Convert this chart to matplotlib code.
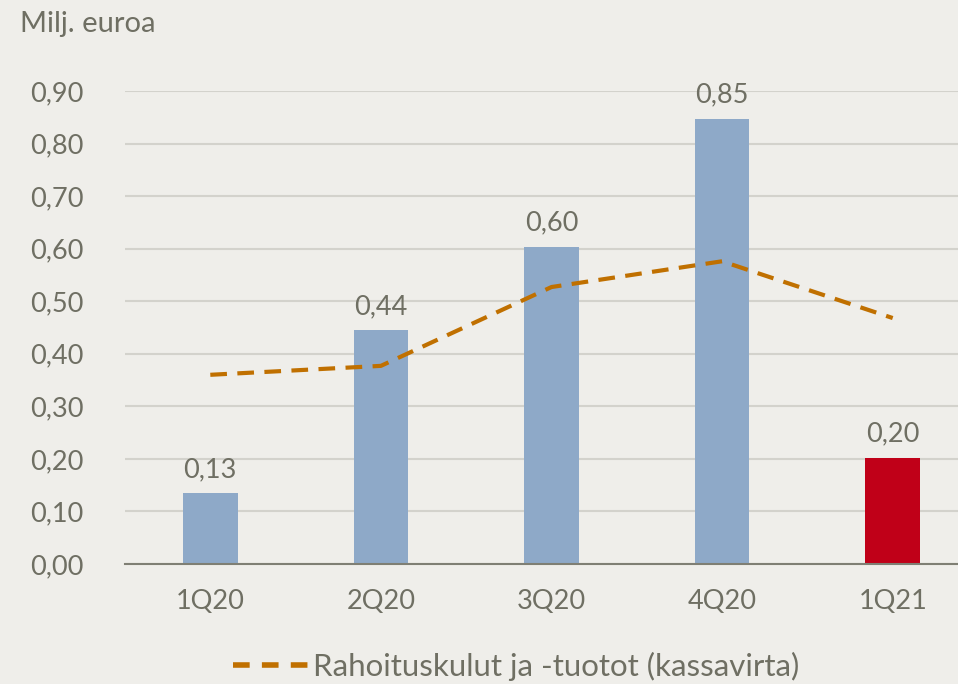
import matplotlib
matplotlib.use("Agg")
import matplotlib.pyplot as plt
from matplotlib.lines import Line2D

categories = ["1Q20", "2Q20", "3Q20", "4Q20", "1Q21"]
bar_values = [0.135, 0.445, 0.604, 0.847, 0.202]
bar_labels = ["0,13", "0,44", "0,60", "0,85", "0,20"]
line_values = [0.360, 0.377, 0.527, 0.576, 0.468]
yticks = [0.0, 0.1, 0.2, 0.3, 0.4, 0.5, 0.6, 0.7, 0.8, 0.9]
ytick_labels = ["0,00", "0,10", "0,20", "0,30", "0,40", "0,50", "0,60", "0,70", "0,80", "0,90"]
line_name = "Rahoituskulut ja -tuotot (kassavirta)"
unit_label = "Milj. euroa"

bg = "#EFEEEA"
txt = "#6F6F63"
bar_colors = ["#8EA9C8"] * 4 + ["#C00018"]
line_color = "#C07000"

plt.rcParams['font.family'] = ['Lato', 'DejaVu Sans']

W, H = 958, 684
fig = plt.figure(figsize=(W / 100, H / 100), dpi=100, facecolor=bg)
left, right, top, bottom = 125, 978, 91, 564
ax = fig.add_axes([left / W, 1 - bottom / H, (right - left) / W, (bottom - top) / H])
ax.set_facecolor(bg)

x = list(range(len(categories)))
ax.bar(x, bar_values, width=0.32, color=bar_colors, zorder=2)
for xi, v, lab in zip(x, bar_values, bar_labels):
    ax.annotate(lab, (xi, v), xytext=(0, 8), textcoords="offset points",
                ha="center", va="bottom", fontsize=19.5, color=txt)
ax.plot(x, line_values, color=line_color, lw=3, dashes=(4, 2.5), zorder=3)

ax.set_xlim(-0.5, len(categories) - 0.5)
ax.set_ylim(0, 0.9)
ax.set_yticks(yticks)
ax.set_yticklabels(ytick_labels)
ax.set_xticks(x)
ax.set_xticklabels(categories)
ax.tick_params(axis="y", length=0, pad=30, labelsize=19.5, labelcolor=txt)
ax.tick_params(axis="x", length=0, pad=18, labelsize=19.5, labelcolor=txt)
ax.grid(axis="y", color="#D3D2CC", lw=1.5, zorder=0)
ax.set_axisbelow(True)
for s in ["top", "right", "left"]:
    ax.spines[s].set_visible(False)
ax.spines["bottom"].set_color("#7F7F74")
ax.spines["bottom"].set_linewidth(1.5)
ax.spines["bottom"].set_zorder(4)

fig.text(20 / W, 1 - 24 / H, unit_label, fontsize=21, color=txt, ha="left", va="center")

handle = Line2D([0], [0], color=line_color, lw=4, dashes=(3, 2.2))
fig.legend([handle], [line_name], loc="center", bbox_to_anchor=(516 / W, 1 - 666 / H),
           frameon=False, fontsize=22.5, labelcolor=txt, handlelength=2.4,
           handletextpad=0.15, borderaxespad=0, borderpad=0)

fig.savefig("out.png", dpi=100, facecolor=bg)
